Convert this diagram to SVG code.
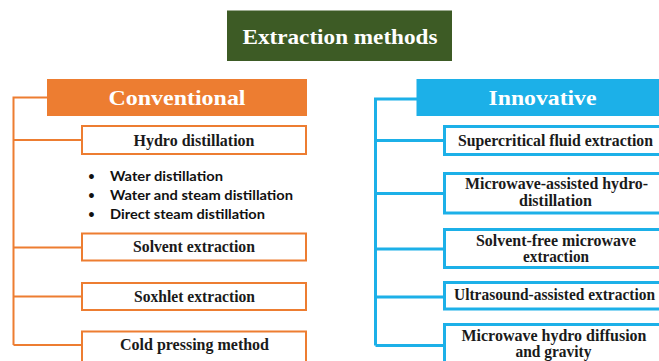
<svg xmlns="http://www.w3.org/2000/svg" width="659" height="361" viewBox="0 0 659 361">
<style>
.hdr{font-family:"Liberation Serif","DejaVu Serif",serif;font-weight:bold;font-size:21px;fill:#ffffff;text-anchor:middle}
.lbl{font-family:"Liberation Serif","DejaVu Serif",serif;font-weight:bold;font-size:16px;fill:#1a1a1a;text-anchor:middle}
.bul{font-family:Lato,"Liberation Sans",sans-serif;font-weight:bold;font-size:13px;fill:#111111}
.dot{font-family:Lato,"Liberation Sans",sans-serif;font-weight:bold;font-size:11px;fill:#111111;text-anchor:middle}
.obox{fill:#ffffff;stroke:#ED7D31;stroke-width:2}
.bbox{fill:#ffffff;stroke:#1CB0E8;stroke-width:3}
.oline{fill:none;stroke:#ED7D31;stroke-width:2}
.bline{fill:none;stroke:#1CB0E8;stroke-width:3}
</style>
<rect width="659" height="361" fill="#ffffff"/>
<g id="connectors">
<path class="oline" d="M47 97.5H13.5V345M13.5 140H82M13.5 247.5H82M13.5 296.5H82M13.5 345H82"/>
<path class="bline" d="M417 99H375.5V345.5M375.5 140.5H444M375.5 193.5H444M375.5 249H444M375.5 297H444M375.5 345.5H444"/>
</g>
<g id="title">
<rect x="227" y="10.5" width="225" height="50.5" fill="#3D5B25"/>
<text class="hdr" x="340" y="43.5" textLength="195" lengthAdjust="spacingAndGlyphs">Extraction methods</text>
</g>
<g id="conventional">
<rect x="47" y="79" width="260" height="37" fill="#ED7D31"/>
<text class="hdr" x="177" y="104.5" textLength="137" lengthAdjust="spacingAndGlyphs">Conventional</text>
</g>
<g id="hydro-distillation">
<rect class="obox" x="82" y="126" width="224" height="28"/>
<text class="lbl" x="194" y="145.5" textLength="121" lengthAdjust="spacingAndGlyphs">Hydro distillation</text>
</g>
<g id="hydro-types">
<text class="dot" x="91.5" y="180">•</text>
<text class="bul" x="110" y="180.5" textLength="113" lengthAdjust="spacingAndGlyphs">Water distillation</text>
<text class="dot" x="91.5" y="199">•</text>
<text class="bul" x="110" y="199.5" textLength="183" lengthAdjust="spacingAndGlyphs">Water and steam distillation</text>
<text class="dot" x="91.5" y="218">•</text>
<text class="bul" x="110" y="218.5" textLength="155" lengthAdjust="spacingAndGlyphs">Direct steam distillation</text>
</g>
<g id="solvent-extraction">
<rect class="obox" x="82" y="233.5" width="224" height="27"/>
<text class="lbl" x="194" y="252" textLength="122" lengthAdjust="spacingAndGlyphs">Solvent extraction</text>
</g>
<g id="soxhlet-extraction">
<rect class="obox" x="82" y="283" width="224" height="27"/>
<text class="lbl" x="194.5" y="301.5" textLength="121" lengthAdjust="spacingAndGlyphs">Soxhlet extraction</text>
</g>
<g id="cold-pressing">
<rect class="obox" x="82" y="331.5" width="224" height="40"/>
<text class="lbl" x="194.5" y="350" textLength="149" lengthAdjust="spacingAndGlyphs">Cold pressing method</text>
</g>
<g id="innovative">
<rect x="416.5" y="79" width="260" height="37" fill="#1CB0E8"/>
<text class="hdr" x="542.5" y="105" textLength="108" lengthAdjust="spacingAndGlyphs">Innovative</text>
</g>
<g id="supercritical">
<rect class="bbox" x="444.5" y="126.5" width="230" height="28"/>
<text class="lbl" x="555.5" y="146" textLength="195" lengthAdjust="spacingAndGlyphs">Supercritical fluid extraction</text>
</g>
<g id="microwave-assisted">
<rect class="bbox" x="444.5" y="173.5" width="230" height="39.5"/>
<text class="lbl" x="556.5" y="189" textLength="183" lengthAdjust="spacingAndGlyphs">Microwave-assisted hydro-</text>
<text class="lbl" x="555.5" y="206" textLength="73" lengthAdjust="spacingAndGlyphs">distillation</text>
</g>
<g id="solvent-free">
<rect class="bbox" x="444.5" y="229.5" width="230" height="38"/>
<text class="lbl" x="556" y="245.5" textLength="160" lengthAdjust="spacingAndGlyphs">Solvent-free microwave</text>
<text class="lbl" x="556" y="262" textLength="66" lengthAdjust="spacingAndGlyphs">extraction</text>
</g>
<g id="ultrasound">
<rect class="bbox" x="444.5" y="282.5" width="230" height="26.5"/>
<text class="lbl" x="554.5" y="300" textLength="201" lengthAdjust="spacingAndGlyphs">Ultrasound-assisted extraction</text>
</g>
<g id="mhg">
<rect class="bbox" x="444.5" y="324.5" width="230" height="50"/>
<text class="lbl" x="554" y="340.5" textLength="185" lengthAdjust="spacingAndGlyphs">Microwave hydro diffusion</text>
<text class="lbl" x="553.5" y="356.5" textLength="76" lengthAdjust="spacingAndGlyphs">and gravity</text>
</g>
</svg>
